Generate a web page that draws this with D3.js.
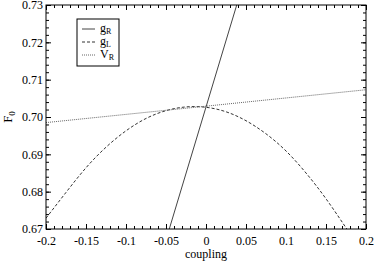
<!DOCTYPE html>
<html>
<head>
<meta charset="utf-8">
<script src="https://cdn.jsdelivr.net/npm/d3@7"></script>
<style>
  body { margin: 0; background: #fff; }
</style>
</head>
<body>
<div id="chart"></div>
<script>
// values
const gR = [[-0.0459, 0.67], [0.0384, 0.73]];
const gL = [[-0.2, 0.6729], [-0.175, 0.6798], [-0.15, 0.6864], [-0.125, 0.6919], [-0.1, 0.6963],
  [-0.075, 0.6996], [-0.05, 0.7017], [-0.025, 0.7027], [0.0, 0.7026], [0.025, 0.7014], [0.05, 0.6990],
  [0.075, 0.6955], [0.1, 0.6909], [0.125, 0.6850], [0.15, 0.6781], [0.176, 0.67]];
const vR = [[-0.2, 0.6985], [0.2, 0.7073]];
const xTicks = [-0.2, -0.15, -0.1, -0.05, 0, 0.05, 0.1, 0.15, 0.2];
const yTicks = [0.67, 0.68, 0.69, 0.70, 0.71, 0.72, 0.73];

const FONT = "Liberation Serif, Times New Roman, serif";
const W = 376, H = 262;
const margin = { top: 5, right: 10, bottom: 33, left: 46 };
const width = W - margin.left - margin.right;
const height = H - margin.top - margin.bottom;

const x = d3.scaleLinear().domain([-0.2, 0.2]).range([0, width]);
const y = d3.scaleLinear().domain([0.67, 0.73]).range([height, 0]);

const svg = d3.select("#chart").append("svg").attr("width", W).attr("height", H)
  .append("g").attr("transform", `translate(${margin.left},${margin.top})`);

svg.append("clipPath").attr("id", "clip").append("rect").attr("width", width).attr("height", height);

const xMinor = d3.range(-0.2, 0.2001, 0.01);
const yMinor = d3.range(0.67, 0.7301, 0.002);

function ticks(g, axis) {
  g.call(axis);
  g.attr("font-family", FONT);
  g.select(".domain").remove();
  g.selectAll("line").attr("stroke", "#000");
}

// major + minor ticks, inward on all sides
svg.append("g").attr("transform", `translate(0,${height})`)
  .call(g => ticks(g, d3.axisBottom(x).tickValues(xMinor).tickSize(-3).tickFormat("")));
svg.append("g").attr("transform", `translate(0,${height})`)
  .call(g => ticks(g, d3.axisBottom(x).tickValues(xTicks).tickSize(-5).tickPadding(7).tickFormat(d => d === 0 ? "0" : String(+d.toFixed(2)))))
  .selectAll("text").attr("font-size", 12).attr("fill", "#000");
svg.append("g")
  .call(g => ticks(g, d3.axisTop(x).tickValues(xMinor).tickSize(-3).tickFormat("")));
svg.append("g")
  .call(g => ticks(g, d3.axisTop(x).tickValues(xTicks).tickSize(-5).tickFormat("")));

svg.append("g")
  .call(g => ticks(g, d3.axisLeft(y).tickValues(yMinor).tickSize(-3).tickFormat("")));
svg.append("g")
  .call(g => ticks(g, d3.axisLeft(y).tickValues(yTicks).tickSize(-5).tickPadding(3).tickFormat(d3.format(".2f"))))
  .selectAll("text").attr("font-size", 12).attr("fill", "#000");
svg.append("g").attr("transform", `translate(${width},0)`)
  .call(g => ticks(g, d3.axisRight(y).tickValues(yMinor).tickSize(-3).tickFormat("")));
svg.append("g").attr("transform", `translate(${width},0)`)
  .call(g => ticks(g, d3.axisRight(y).tickValues(yTicks).tickSize(-5).tickFormat("")));

const line = d3.line().x(d => x(d[0])).y(d => y(d[1]));
const plot = svg.append("g").attr("clip-path", "url(#clip)");

plot.append("path").datum(gR).attr("fill", "none").attr("stroke", "#444").attr("stroke-width", 1).attr("d", line);
plot.append("path").datum(gL).attr("fill", "none").attr("stroke", "#333").attr("stroke-width", 1)
  .attr("stroke-dasharray", "3,2").attr("d", d3.line().x(d => x(d[0])).y(d => y(d[1])).curve(d3.curveNatural));
plot.append("path").datum(vR).attr("fill", "none").attr("stroke", "#666").attr("stroke-width", 1)
  .attr("stroke-dasharray", "1,1").attr("d", line);

// frame
svg.append("rect").attr("width", width).attr("height", height)
  .attr("fill", "none").attr("stroke", "#000").attr("stroke-width", 1);

// axis titles
svg.append("text").attr("x", width / 2).attr("y", height + 29).attr("text-anchor", "middle")
  .attr("font-family", FONT).attr("font-size", 12).text("coupling");
const yl = svg.append("text").attr("transform", `translate(${-34},${height / 2}) rotate(-90)`)
  .attr("text-anchor", "middle").attr("font-family", FONT).attr("font-size", 13);
yl.append("tspan").text("F");
yl.append("tspan").attr("font-size", 9).attr("dy", 3).text("0");

// legend
const legend = [
  { name: "g", sub: "R", dash: null, color: "#444" },
  { name: "g", sub: "L", dash: "3,2", color: "#333" },
  { name: "V", sub: "R", dash: "1,1", color: "#666" }
];
const lg = svg.append("g").attr("transform", `translate(${77 - margin.left},${19 - margin.top})`);
lg.append("rect").attr("width", 42).attr("height", 47).attr("fill", "#fff").attr("stroke", "#000");
legend.forEach((d, i) => {
  const yy = 10 + i * 13;
  lg.append("line").attr("x1", 5).attr("x2", 18).attr("y1", yy).attr("y2", yy)
    .attr("stroke", d.color).attr("stroke-dasharray", d.dash);
  const t = lg.append("text").attr("x", 23).attr("y", yy + 3).attr("font-family", FONT).attr("font-size", 12);
  t.append("tspan").text(d.name);
  t.append("tspan").attr("font-size", 8).attr("dy", 2).text(d.sub);
});
</script>
</body>
</html>
